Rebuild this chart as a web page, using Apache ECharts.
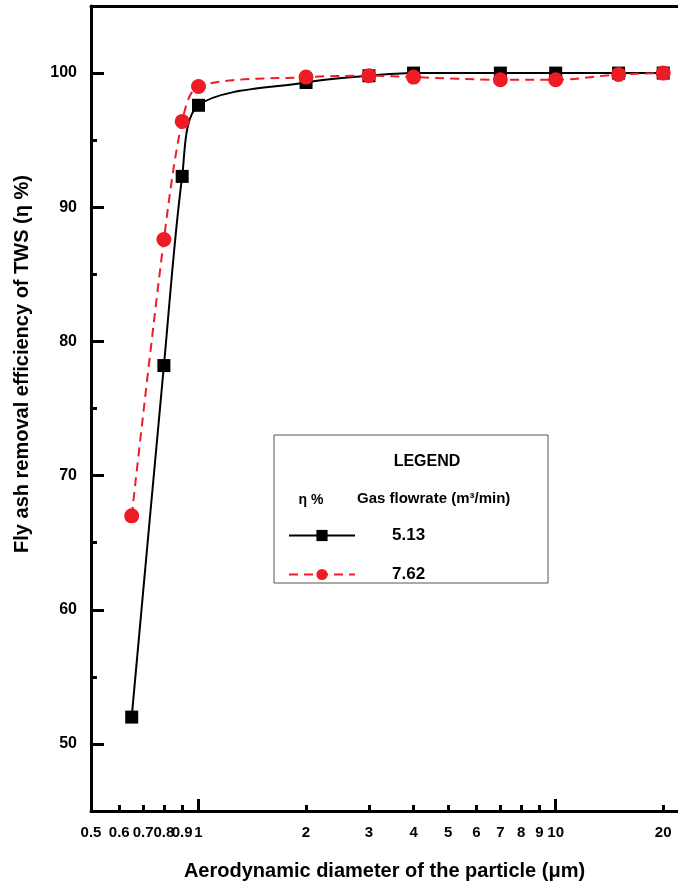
<!DOCTYPE html>
<html>
<head>
<meta charset="utf-8">
<script src="https://cdn.jsdelivr.net/npm/echarts@6/dist/echarts.min.js"></script>
<style>
  html, body { margin: 0; padding: 0; background: #fff; }
  #main { width: 678px; height: 886px; }
</style>
</head>
<body>
<div id="main"></div>
<script>
// particle diameter (um)
var diameters = [0.65, 0.8, 0.9, 1, 2, 3, 4, 7, 10, 15, 20];
// removal efficiency (%) at 5.13 m3/min
var eff513 = [52.0, 78.2, 92.3, 97.6, 99.3, 99.8, 100, 100, 100, 100, 100];
// removal efficiency (%) at 7.62 m3/min
var eff762 = [67.0, 87.6, 96.4, 99.0, 99.7, 99.8, 99.7, 99.5, 99.5, 99.9, 100];
var seriesNames = ['5.13', '7.62'];

var xTickLabels = [0.5, 0.6, 0.7, 0.8, 0.9, 1, 2, 3, 4, 5, 6, 7, 8, 9, 10, 20];
var xMajorTicks = [1, 10];
var yTickLabels = [50, 60, 70, 80, 90, 100];
var yMinorTicks = [55, 65, 75, 85, 95];

var FONT = 'Liberation Sans, Arial, sans-serif';

// log-scale x: values are plotted as log10(d) on a value axis
function lg(v) { return Math.log10(v); }
function pairs(ys) {
  return diameters.map(function (d, i) { return [lg(d), ys[i]]; });
}

var xMin = lg(0.5), xMax = lg(22);

var chart = echarts.init(document.getElementById('main'));

var option = {
  backgroundColor: '#fff',
  animation: false,
  grid: { left: 91, right: 0, top: 6, bottom: 73 },
  legend: {
    orient: 'vertical',
    left: 283,
    top: 522,
    itemWidth: 66,
    itemHeight: 14,
    itemGap: 22,
    data: seriesNames,
    textStyle: { fontFamily: FONT, fontWeight: 'bold', fontSize: 17, color: '#000', padding: [0, 0, 0, 32] }
  },
  xAxis: [{
    type: 'value',
    min: xMin,
    max: xMax,
    position: 'bottom',
    splitLine: { show: false },
    axisLine: { onZero: false, lineStyle: { color: '#000', width: 3 } },
    axisTick: {
      inside: true, length: 6, lineStyle: { color: '#000', width: 3 },
      customValues: xTickLabels.map(lg)
    },
    axisLabel: {
      customValues: xTickLabels.map(lg),
      margin: 14,
      fontFamily: FONT, fontWeight: 'bold', fontSize: 15, color: '#000',
      formatter: function (v) { return String(parseFloat(Math.pow(10, v).toPrecision(3))); }
    },
    name: 'Aerodynamic diameter of the particle (\u03bcm)',
    nameLocation: 'middle',
    nameGap: 50,
    nameTextStyle: { fontFamily: FONT, fontWeight: 'bold', fontSize: 20, color: '#000' }
  }, {
    type: 'value',
    min: xMin,
    max: xMax,
    position: 'bottom',
    splitLine: { show: false },
    axisLine: { show: false, onZero: false },
    axisTick: {
      inside: true, length: 12, lineStyle: { color: '#000', width: 3 },
      customValues: xMajorTicks.map(lg)
    },
    axisLabel: { show: false }
  }, {
    type: 'value',
    min: xMin,
    max: xMax,
    position: 'top',
    splitLine: { show: false },
    axisLine: { onZero: false, lineStyle: { color: '#000', width: 3 } },
    axisTick: { show: false },
    axisLabel: { show: false }
  }],
  yAxis: [{
    type: 'value',
    min: 45,
    max: 105,
    interval: 5,
    position: 'left',
    splitLine: { show: false },
    axisLine: { show: true, onZero: false, lineStyle: { color: '#000', width: 3 } },
    axisTick: {
      inside: true, length: 13, lineStyle: { color: '#000', width: 3 },
      customValues: yTickLabels
    },
    axisLabel: {
      customValues: yTickLabels,
      margin: 14,
      fontFamily: FONT, fontWeight: 'bold', fontSize: 16, color: '#000'
    }
  }, {
    type: 'value',
    min: 45,
    max: 105,
    interval: 5,
    position: 'left',
    splitLine: { show: false },
    axisLine: { show: false, onZero: false },
    axisTick: {
      inside: true, length: 6, lineStyle: { color: '#000', width: 3 },
      customValues: yMinorTicks
    },
    axisLabel: { show: false }
  }],
  series: [{
    name: seriesNames[0],
    type: 'line',
    data: pairs(eff513),
    smooth: 0.3,
    symbol: 'rect',
    symbolSize: 13,
    itemStyle: { color: '#000' },
    lineStyle: { color: '#000', width: 2 },
    z: 2
  }, {
    name: seriesNames[1],
    type: 'line',
    data: pairs(eff762),
    smooth: 0.3,
    symbol: 'circle',
    symbolSize: 15,
    itemStyle: { color: '#ee1c24' },
    lineStyle: { color: '#ee1c24', width: 2, type: [9, 6] },
    z: 3
  }],
  graphic: [{
    type: 'rect',
    shape: { x: 274, y: 435, width: 274, height: 148 },
    style: { fill: 'none', stroke: '#555', lineWidth: 1 },
    z: -1
  }, {
    type: 'text',
    x: 427, y: 462,
    style: { text: 'LEGEND', fontFamily: FONT, fontWeight: 'bold', fontSize: 16, fill: '#000', align: 'center', verticalAlign: 'middle' }
  }, {
    type: 'text',
    x: 311, y: 500,
    style: { text: '\u03b7 %', fontFamily: FONT, fontWeight: 'bold', fontSize: 14, fill: '#000', align: 'center', verticalAlign: 'middle' }
  }, {
    type: 'text',
    x: 357, y: 499,
    style: { text: 'Gas flowrate (m\u00b3/min)', fontFamily: FONT, fontWeight: 'bold', fontSize: 15, fill: '#000', align: 'left', verticalAlign: 'middle' }
  }, {
    type: 'text',
    x: 22, y: 364,
    rotation: Math.PI / 2,
    style: { text: 'Fly ash removal efficiency of TWS (\u03b7 %)', fontFamily: FONT, fontWeight: 'bold', fontSize: 20, fill: '#000', align: 'center', verticalAlign: 'middle' }
  }]
};

chart.setOption(option);
</script>
</body>
</html>
